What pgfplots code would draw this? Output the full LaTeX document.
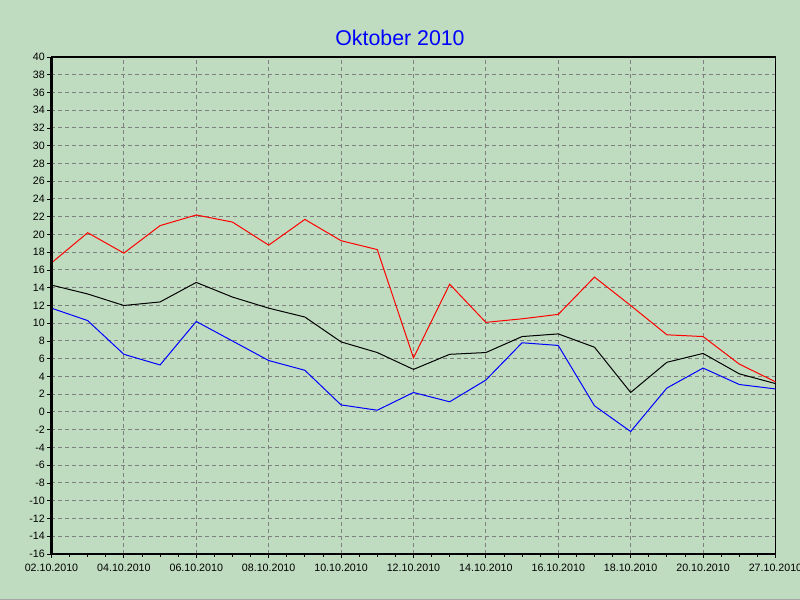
\documentclass[border=0pt]{standalone}
\usepackage{pgfplots}
\pgfplotsset{compat=1.18}
\usepackage{fontspec}
\setmainfont{Liberation Sans}
\definecolor{bg}{RGB}{192,220,192}
\definecolor{gridgray}{RGB}{128,128,128}
\begin{document}
\begin{tikzpicture}[x=1pt,y=1pt]
\clip (0,0) rectangle (600,450);
\fill[bg] (0,0) rectangle (600,450);
\draw[gridgray!70,line width=1.5pt] (0,0) -- (600,0);
\node[text=blue,font=\fontsize{16}{19}\selectfont] at (300,421.5) {Oktober 2010};
\begin{axis}[
  at={(38.6pt,34.5pt)}, anchor=south west,
  scale only axis, width=543pt, height=372.75pt,
  xmin=0, xmax=20, ymin=-16, ymax=40,
  xtick={0,2,...,18,20},
  xticklabels={02.10.2010,04.10.2010,06.10.2010,08.10.2010,10.10.2010,12.10.2010,14.10.2010,16.10.2010,18.10.2010,20.10.2010,27.10.2010},
  minor x tick num=3,
  ytick={-16,-14,...,40},
  xtick pos=bottom, ytick pos=left,
  grid=major,
  major grid style={gridgray, dashed, line width=0.75pt, dash pattern=on 3pt off 2.25pt},
  axis background/.style={fill=bg},
  axis line style={black, line width=1pt},
  tick align=outside,
  major tick length=3pt, minor tick length=2pt,
  tick style={black, line width=0.6pt},
  ticklabel style={font=\fontsize{8}{9.6}\selectfont},
  /pgf/number format/assume math mode=true,
  x tick label style={yshift=-1pt},
  y tick label style={xshift=1.5pt},
  clip=false,
]
\addplot[red, line width=0.75pt] coordinates {
(0,16.8)(1,20.2)(2,17.9)(3,21.0)(4,22.2)(5,21.4)(6,18.8)(7,21.7)(8,19.3)(9,18.3)
(10,6.1)(11,14.4)(12,10.1)(13,10.5)(14,11.0)(15,15.2)(16,12.0)(17,8.7)(18,8.5)(19,5.4)(20,3.4)};
\addplot[black, line width=0.75pt] coordinates {
(0,14.3)(1,13.3)(2,12.0)(3,12.4)(4,14.6)(5,12.95)(6,11.7)(7,10.7)(8,7.9)(9,6.7)
(10,4.8)(11,6.5)(12,6.7)(13,8.5)(14,8.8)(15,7.3)(16,2.2)(17,5.6)(18,6.6)(19,4.3)(20,3.2)};
\addplot[blue, line width=0.75pt] coordinates {
(0,11.7)(1,10.3)(2,6.5)(3,5.3)(4,10.2)(5,8.0)(6,5.8)(7,4.7)(8,0.8)(9,0.2)
(10,2.2)(11,1.15)(12,3.6)(13,7.8)(14,7.5)(15,0.7)(16,-2.2)(17,2.7)(18,4.95)(19,3.1)(20,2.6)};
\draw[black, line width=2.2pt] (rel axis cs:0,1) -- (rel axis cs:0,0) -- (rel axis cs:1,0);
\end{axis}
\end{tikzpicture}
\end{document}
